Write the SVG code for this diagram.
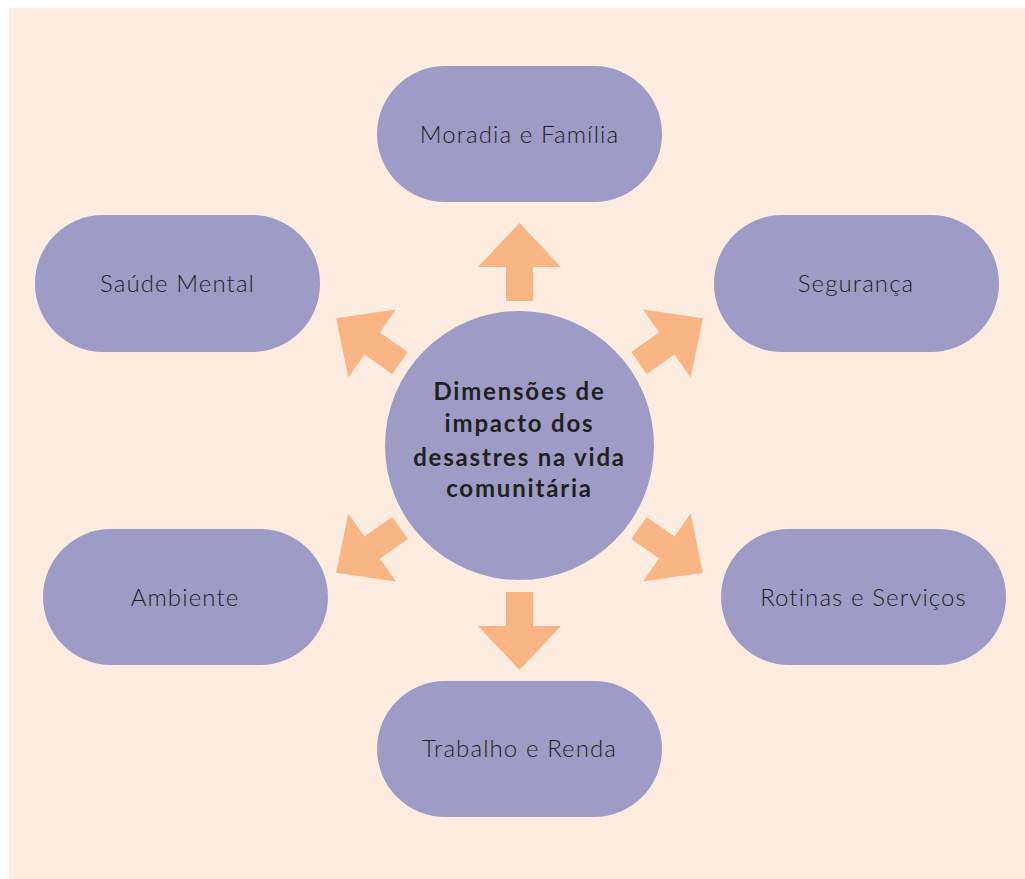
<svg xmlns="http://www.w3.org/2000/svg" xmlns:xlink="http://www.w3.org/1999/xlink" width="1025" height="879" viewBox="0 0 1025 879">
<style>
.node{fill:#9e9cc6}
.lbl{font-family:Lato,"Open Sans","Liberation Sans",sans-serif;font-size:24px;font-weight:300;fill:#231f20;text-anchor:middle;letter-spacing:1.1px}
.ctr{font-family:Lato,"Open Sans","Liberation Sans",sans-serif;font-size:24px;font-weight:bold;fill:#231f20;text-anchor:middle;letter-spacing:1.8px}
.arr{fill:#f9b583}
</style>
<defs>
<polygon id="arrow" class="arr" points="-13.5,0 13.5,0 13.5,-34 41.5,-34 0,-78 -41.5,-34 -13.5,-34"/>
</defs>
<rect x="0" y="0" width="1025" height="879" fill="#ffffff"/>
<rect x="9" y="8" width="1016" height="871" fill="#fdede0"/>
<g id="connectors">
<use xlink:href="#arrow" href="#arrow" transform="translate(519.5,301)"/>
<use xlink:href="#arrow" href="#arrow" transform="translate(519.5,592) rotate(180)"/>
<use xlink:href="#arrow" href="#arrow" transform="translate(400,363) rotate(-55)"/>
<use xlink:href="#arrow" href="#arrow" transform="translate(639,363) rotate(55)"/>
<use xlink:href="#arrow" href="#arrow" transform="translate(400,528) rotate(-125)"/>
<use xlink:href="#arrow" href="#arrow" transform="translate(639,528) rotate(125)"/>
</g>
<g id="center">
<circle class="node" cx="519.5" cy="445.5" r="134.5"/>
<text class="ctr" x="519.5" y="400">Dimensões de</text>
<text class="ctr" x="519.5" y="432">impacto dos</text>
<text class="ctr" x="519.5" y="466">desastres na vida</text>
<text class="ctr" x="519.5" y="497">comunitária</text>
</g>
<g id="moradia">
<rect class="node" x="377" y="66" width="285" height="136" rx="68"/>
<text class="lbl" x="519.5" y="143">Moradia e Família</text>
</g>
<g id="saude">
<rect class="node" x="35" y="215" width="285" height="137" rx="68"/>
<text class="lbl" x="177.5" y="292">Saúde Mental</text>
</g>
<g id="seguranca">
<rect class="node" x="714" y="215" width="285" height="137" rx="68"/>
<text class="lbl" x="856" y="292">Segurança</text>
</g>
<g id="ambiente">
<rect class="node" x="43" y="529" width="285" height="136" rx="68"/>
<text class="lbl" x="185" y="606">Ambiente</text>
</g>
<g id="rotinas">
<rect class="node" x="721" y="529" width="285" height="136" rx="68"/>
<text class="lbl" x="863.5" y="606">Rotinas e Serviços</text>
</g>
<g id="trabalho">
<rect class="node" x="377" y="681" width="285" height="136" rx="68"/>
<text class="lbl" x="519.5" y="757">Trabalho e Renda</text>
</g>
</svg>
